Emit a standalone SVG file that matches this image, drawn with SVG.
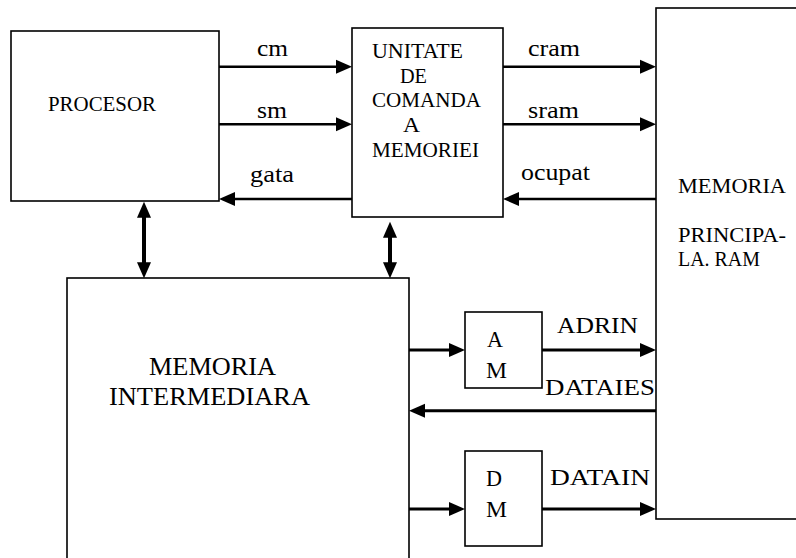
<svg xmlns="http://www.w3.org/2000/svg" width="796" height="558" viewBox="0 0 796 558">
<style>
.box{fill:#fff;stroke:#000;stroke-width:1.6}
.c{fill:none;stroke:#000;stroke-width:2.5}
.c3{fill:none;stroke:#000;stroke-width:3}
.v{fill:none;stroke:#000;stroke-width:4}
</style>
<defs>
<path id="ah" d="M0,-7 L16,0 L0,7 z" fill="#000"/>
</defs>
<rect width="796" height="558" fill="#fff"/>
<g id="procesor" font-family="Liberation Serif, serif">
<rect class="box" x="11" y="31" width="208" height="170"/>
<text font-family="Liberation Serif, serif" font-size="20" x="48" y="111" textLength="108" lengthAdjust="spacingAndGlyphs">PROCESOR</text>
</g>
<g id="unitate" font-family="Liberation Serif, serif">
<rect class="box" x="352" y="28" width="151" height="189"/>
<text font-family="Liberation Serif, serif" font-size="20" x="372" y="58" textLength="91" lengthAdjust="spacingAndGlyphs">UNITATE</text>
<text font-family="Liberation Serif, serif" font-size="20" x="400" y="83" textLength="27" lengthAdjust="spacingAndGlyphs">DE</text>
<text font-family="Liberation Serif, serif" font-size="20" x="372" y="107" textLength="109" lengthAdjust="spacingAndGlyphs">COMANDA</text>
<text font-family="Liberation Serif, serif" font-size="20" x="403" y="132" textLength="17" lengthAdjust="spacingAndGlyphs">A</text>
<text font-family="Liberation Serif, serif" font-size="20" x="372" y="157" textLength="107" lengthAdjust="spacingAndGlyphs">MEMORIEI</text>
</g>
<g id="memoria-principala" font-family="Liberation Serif, serif">
<rect class="box" x="656" y="8" width="150" height="511"/>
<text font-family="Liberation Serif, serif" font-size="21" x="678" y="193" textLength="108" lengthAdjust="spacingAndGlyphs">MEMORIA</text>
<text font-family="Liberation Serif, serif" font-size="21" x="678" y="242" textLength="108" lengthAdjust="spacingAndGlyphs">PRINCIPA-</text>
<text font-family="Liberation Serif, serif" font-size="21" x="678" y="266" textLength="82" lengthAdjust="spacingAndGlyphs">LA. RAM</text>
</g>
<g id="memoria-intermediara" font-family="Liberation Serif, serif">
<rect class="box" x="67" y="278" width="342" height="290"/>
<text font-family="Liberation Serif, serif" font-size="25" x="149" y="375" textLength="127" lengthAdjust="spacingAndGlyphs">MEMORIA</text>
<text font-family="Liberation Serif, serif" font-size="25" x="109" y="405" textLength="201" lengthAdjust="spacingAndGlyphs">INTERMEDIARA</text>
</g>
<g id="am" font-family="Liberation Serif, serif">
<rect class="box" x="465" y="312" width="77" height="76"/>
<text font-family="Liberation Serif, serif" font-size="23" x="487" y="347" textLength="16" lengthAdjust="spacingAndGlyphs">A</text>
<text font-family="Liberation Serif, serif" font-size="23" x="486" y="378" textLength="21" lengthAdjust="spacingAndGlyphs">M</text>
</g>
<g id="dm" font-family="Liberation Serif, serif">
<rect class="box" x="465" y="451" width="77" height="95"/>
<text font-family="Liberation Serif, serif" font-size="23" x="486" y="486" textLength="16" lengthAdjust="spacingAndGlyphs">D</text>
<text font-family="Liberation Serif, serif" font-size="23" x="486" y="517" textLength="21" lengthAdjust="spacingAndGlyphs">M</text>
</g>
<g id="connectors" font-family="Liberation Serif, serif">
<path class="c" d="M219,66.7 H337"/><use href="#ah" transform="translate(336,66.7)"/>
<path class="c" d="M219,124.3 H337"/><use href="#ah" transform="translate(336,124.3)"/>
<path class="c" d="M352,199 H234"/><use href="#ah" transform="translate(235,199) rotate(180)"/>
<path class="c" d="M503,66.7 H641"/><use href="#ah" transform="translate(640,66.7)"/>
<path class="c" d="M503,124.3 H641"/><use href="#ah" transform="translate(640,124.3)"/>
<path class="c" d="M656,199 H518"/><use href="#ah" transform="translate(519,199) rotate(180)"/>
<path class="c3" d="M409,350 H450"/><use href="#ah" transform="translate(449,350)"/>
<path class="c3" d="M542,350 H641"/><use href="#ah" transform="translate(640,350)"/>
<path class="c3" d="M656,410.7 H424"/><use href="#ah" transform="translate(425,410.7) rotate(180)"/>
<path class="c3" d="M409,509 H450"/><use href="#ah" transform="translate(449,509)"/>
<path class="c3" d="M542,509 H641"/><use href="#ah" transform="translate(640,509)"/>
<path class="v" d="M144,216 V264"/><use href="#ah" transform="translate(144,217.7) rotate(-90)"/><use href="#ah" transform="translate(144,262.3) rotate(90)"/>
<path class="v" d="M390,236 V264"/><use href="#ah" transform="translate(390,237.7) rotate(-90)"/><use href="#ah" transform="translate(390,262.3) rotate(90)"/>
<text font-family="Liberation Serif, serif" font-size="23" x="257" y="56" textLength="31" lengthAdjust="spacingAndGlyphs">cm</text>
<text font-family="Liberation Serif, serif" font-size="23" x="257" y="118" textLength="30" lengthAdjust="spacingAndGlyphs">sm</text>
<text font-family="Liberation Serif, serif" font-size="23" x="250" y="182" textLength="44" lengthAdjust="spacingAndGlyphs">gata</text>
<text font-family="Liberation Serif, serif" font-size="23" x="528" y="56" textLength="52" lengthAdjust="spacingAndGlyphs">cram</text>
<text font-family="Liberation Serif, serif" font-size="23" x="528" y="118" textLength="51" lengthAdjust="spacingAndGlyphs">sram</text>
<text font-family="Liberation Serif, serif" font-size="23" x="521" y="180" textLength="69" lengthAdjust="spacingAndGlyphs">ocupat</text>
<text font-family="Liberation Serif, serif" font-size="23" x="557" y="333" textLength="81" lengthAdjust="spacingAndGlyphs">ADRIN</text>
<text font-family="Liberation Serif, serif" font-size="23" x="545" y="395" textLength="110" lengthAdjust="spacingAndGlyphs">DATAIES</text>
<text font-family="Liberation Serif, serif" font-size="23" x="550" y="485" textLength="100" lengthAdjust="spacingAndGlyphs">DATAIN</text>
</g>
</svg>
